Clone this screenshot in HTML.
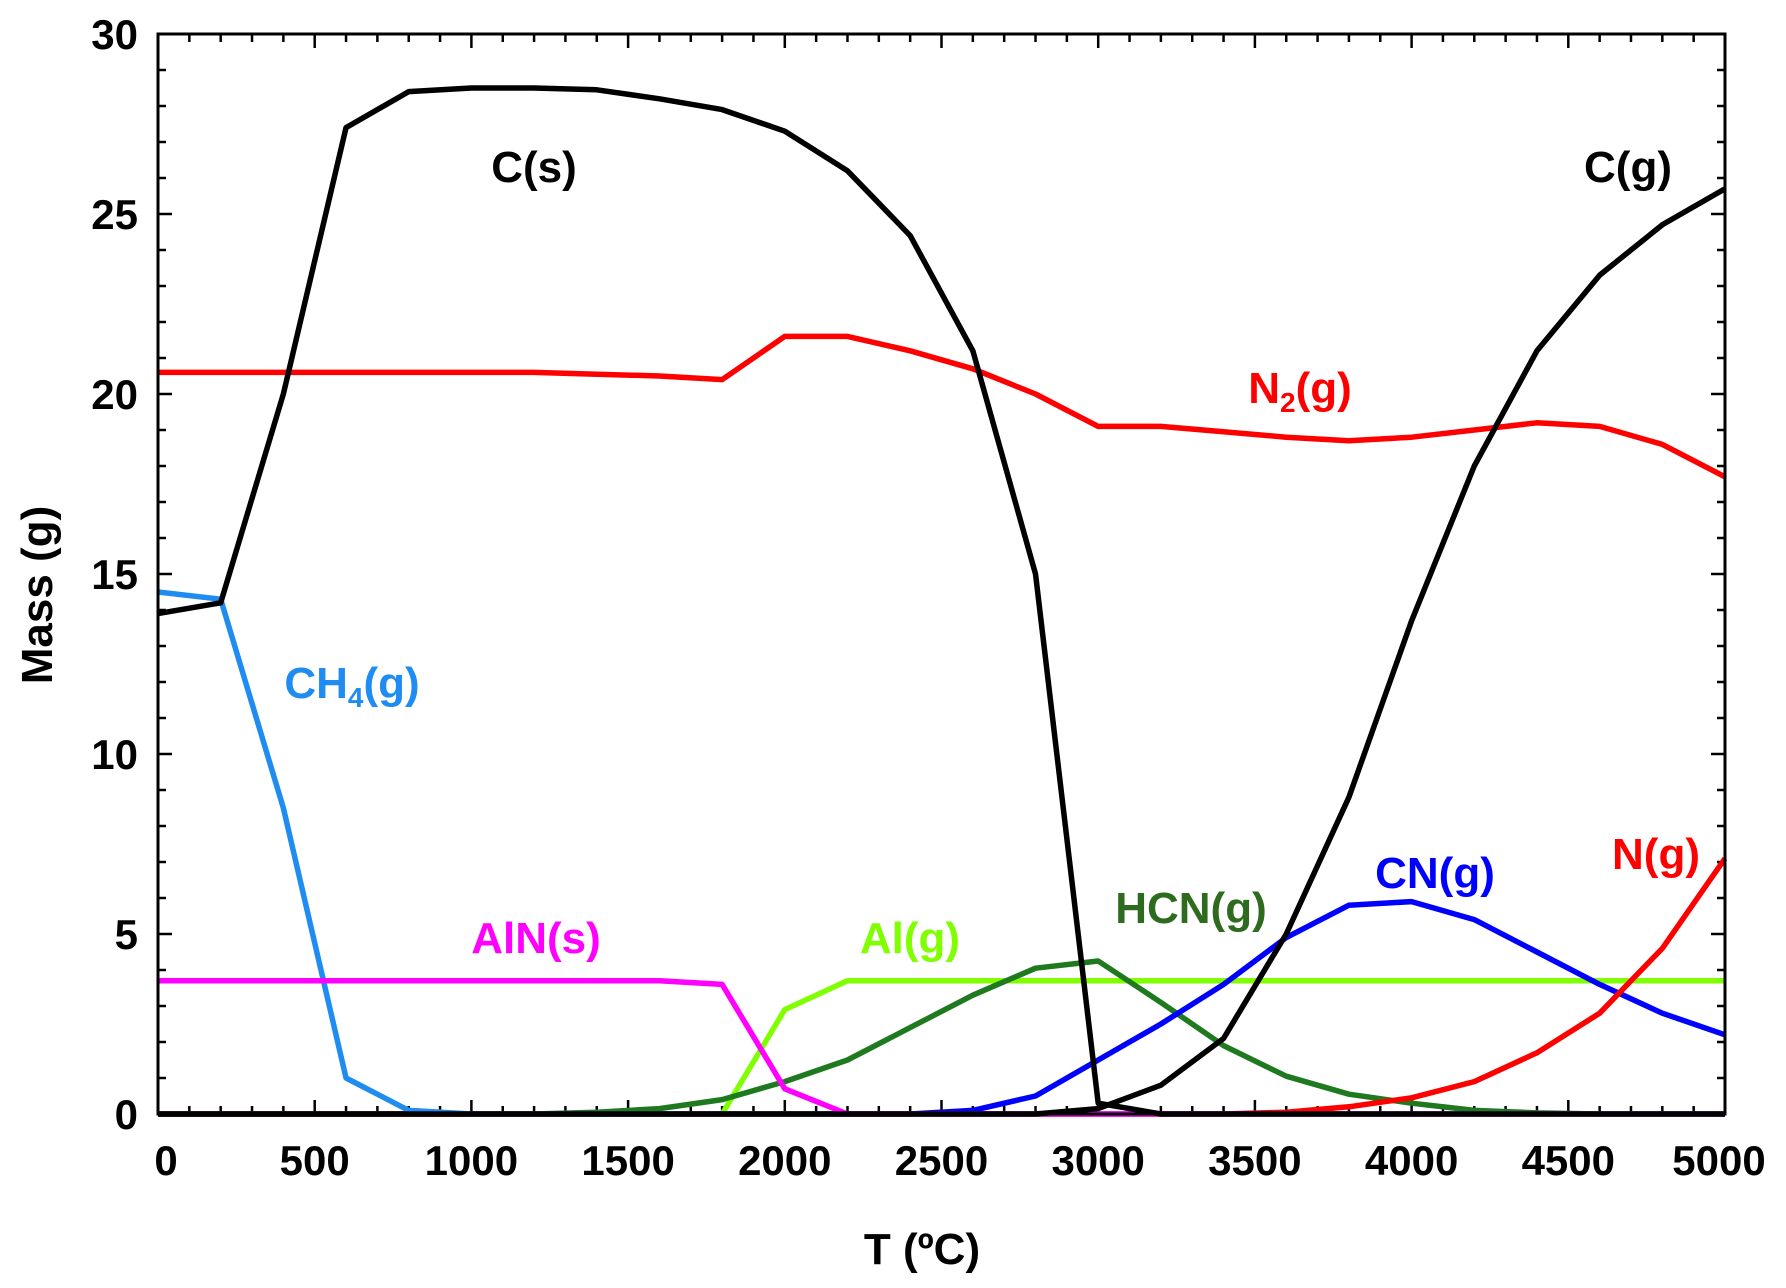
<!DOCTYPE html>
<html><head><meta charset="utf-8"><style>
body{margin:0;background:#fff}
svg{display:block;font-family:"Liberation Sans",sans-serif;font-weight:bold}
</style></head><body>
<svg id="chart" width="1786" height="1288" viewBox="0 0 1786 1288" xmlns="http://www.w3.org/2000/svg">
<g id="ticks"></g>
<g id="lines"></g>
<rect x="158" y="34" width="1567" height="1080" fill="none" stroke="#000" stroke-width="3"/>
<g id="labels" font-size="44"></g>
<text x="0" y="0" font-size="44" text-anchor="middle" transform="translate(52,595) rotate(-90)">Mass (g)</text>
<text x="922" y="1264" font-size="44" text-anchor="middle">T (ºC)</text>
</svg>
<script>
const temps=[0,200,400,600,800,1000,1200,1400,1600,1800,2000,2200,2400,2600,2800,3000,3200,3400,3600,3800,4000,4200,4400,4600,4800,5000];
const cs=[13.9,14.2,20,27.4,28.4,28.5,28.5,28.45,28.2,27.9,27.3,26.2,24.4,21.2,15,0.3,0,0,0,0,0,0,0,0,0,0];
const cg=[0,0,0,0,0,0,0,0,0,0,0,0,0,0,0,0.15,0.8,2.1,5,8.8,13.7,18,21.2,23.3,24.7,25.7];
const n2=[20.6,20.6,20.6,20.6,20.6,20.6,20.6,20.55,20.5,20.4,21.6,21.6,21.2,20.7,20,19.1,19.1,18.95,18.8,18.7,18.8,19.0,19.2,19.1,18.6,17.7];
const ch4=[14.5,14.3,8.5,1,0.1,0,0,0,0,0,0,0,0,0,0,0,0,0,0,0,0,0,0,0,0,0];
const aln=[3.7,3.7,3.7,3.7,3.7,3.7,3.7,3.7,3.7,3.6,0.7,0,0,0,0,0,0,0,0,0,0,0,0,0,0,0];
const alg=[0,0,0,0,0,0,0,0,0,0,2.9,3.7,3.7,3.7,3.7,3.7,3.7,3.7,3.7,3.7,3.7,3.7,3.7,3.7,3.7,3.7];
const hcn=[0,0,0,0,0,0,0,0.05,0.15,0.4,0.9,1.5,2.4,3.3,4.05,4.25,3.1,1.9,1.05,0.55,0.3,0.1,0.03,0,0,0];
const cn=[0,0,0,0,0,0,0,0,0,0,0,0,0,0.1,0.5,1.5,2.5,3.6,4.9,5.8,5.9,5.4,4.5,3.6,2.8,2.2];
const ng=[0,0,0,0,0,0,0,0,0,0,0,0,0,0,0,0,0,0,0.05,0.2,0.45,0.9,1.7,2.8,4.6,7.1];
const xTicks=[0,500,1000,1500,2000,2500,3000,3500,4000,4500,5000];
const yTicks=[0,5,10,15,20,25,30];
const X=t=>158+t*(1567/5000), Y=v=>1114-v*36;
const NS="http://www.w3.org/2000/svg";
function mk(tag,attrs,parent){const e=document.createElementNS(NS,tag);for(const k in attrs)e.setAttribute(k,attrs[k]);parent.appendChild(e);return e;}
const tg=document.getElementById('ticks');
for(let t=0;t<=5000;t+=100){const major=t%500===0,L=major?14:8;
 const a=mk('line',{x1:X(t),x2:X(t),y1:1114,y2:1114-L,stroke:'#000','stroke-width':2.5},tg);
 
 
 const b=mk('line',{x1:X(t),x2:X(t),y1:34,y2:34+L,stroke:'#000','stroke-width':2.5},tg);
 
 }
for(let v=0;v<=30;v++){const L=v%5===0?14:8;
 const a=mk('line',{x1:158,x2:158+L,y1:Y(v),y2:Y(v),stroke:'#000','stroke-width':2.5},tg);
 
 
 const b=mk('line',{x1:1725,x2:1725-L,y1:Y(v),y2:Y(v),stroke:'#000','stroke-width':2.5},tg);
 
 }
xTicks.forEach(t=>{const e=mk('text',{x:X(t)+(t===0?8:(t===5000?-6:0)),y:1175,'font-size':42,'text-anchor':'middle'},tg);e.textContent=t;
 
 });
yTicks.forEach(v=>{const e=mk('text',{x:138,y:Y(v)+15,'font-size':42,'text-anchor':'end'},tg);e.textContent=v;
 
 });
const series=[['alg',alg,'#80ff00'],['hcn',hcn,'#1f7a1f'],['cn',cn,'#0000ff'],['ng',ng,'#ff0000'],['ch4',ch4,'#1e8cf0'],['aln',aln,'#ff00ff'],['n2',n2,'#ff0000'],['cg',cg,'#000'],['cs',cs,'#000']];
const lg=document.getElementById('lines');
series.forEach(([n,d,c])=>{const p=mk('polyline',{points:d.map((v,i)=>X(temps[i])+','+Y(v)).join(' '),fill:'none',stroke:c,'stroke-width':5.5,'stroke-linejoin':'round'},lg);
 
 });
const labs=[['C(s)','',534,182,'#000'],['C(g)','',1628,182,'#000'],['N','2','(g)',1300,403,'#f00'],['CH','4','(g)',352,698,'#1e8cf0'],['AlN(s)','',536,953,'#ff00ff'],['Al(g)','',910,953,'#80ff00'],['HCN(g)','',1191,923,'#2e6b1e'],['CN(g)','',1435,888,'#0000ff'],['N(g)','',1656,869,'#f00']];
const lb=document.getElementById('labels');
labs.forEach(l=>{let txt,sub,rest,x,y,c;
 if(l.length===6){[txt,sub,rest,x,y,c]=l;}else{[txt,sub,x,y,c]=l;rest='';}
 const e=mk('text',{x:x,y:y,fill:c,'text-anchor':'middle'},lb);
 
 
 e.appendChild(document.createTextNode(txt));
 if(sub){const s=mk('tspan',{'font-size':28,dy:9},e);s.textContent=sub;
  const r=mk('tspan',{dy:-9},e);r.textContent=rest;}
});
</script>
</body></html>
